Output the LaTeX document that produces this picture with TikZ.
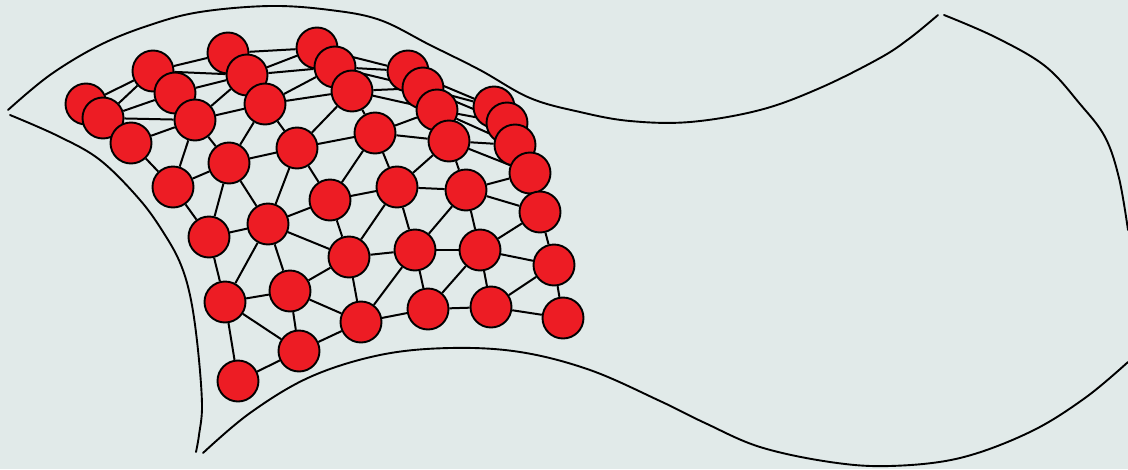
\documentclass[tikz,border=0pt]{standalone}
\usetikzlibrary{backgrounds}
\definecolor{paper}{RGB}{225,234,233}
\definecolor{ballred}{RGB}{237,28,36}
\pgfdeclarelayer{edges}
\pgfsetlayers{background,edges,main}
\tikzset{
  ball/.style={circle, draw=black, fill=ballred, line width=1.9pt,
               minimum size=41pt, inner sep=0pt},
  link/.style={draw=black, line width=2pt},
  rim/.style={draw=black, line width=1.9pt, line cap=round}
}
\begin{document}
\begin{tikzpicture}[x=1pt,y=-1pt]
\begin{pgfonlayer}{background}
  \fill[paper] (0,0) rectangle (1128,469);
\end{pgfonlayer}
\useasboundingbox (0,0) rectangle (1128,469);

% outline of the sheet
\draw[rim] plot[smooth, tension=0.6] coordinates {
  (8,110) (50,75) (100,45) (150,25) (200,12) (270,6) (330,10) (380,20)
  (430,45) (480,70) (530,98) (580,112) (630,121) (690,122) (760,110)
  (820,88) (880,58) (910,38) (938,15)};
\draw[rim] plot[smooth, tension=0.6] coordinates {
  (10,115) (58,136) (100,160) (140,200) (165,235) (181,265)
  (191,300) (198,350) (202,405) (199,435) (196,452)};
\draw[rim] plot[smooth, tension=0.6] coordinates {
  (203,453) (250,413) (310,377) (380,355) (450,348) (520,352) (590,370)
  (660,401) (705,423) (760,447) (830,462) (890,466) (960,458) (1030,432)
  (1085,398) (1128,362)};
\draw[rim] plot[smooth, tension=0.6] coordinates {
  (944,15) (995,37) (1045,66) (1080,104) (1105,137) (1119,178) (1128,230)};

% mesh vertices, back row first
\foreach \p [count=\k] in {(86,104),(153,71),(228,53),(317,48),(408,71),(494,107)}
  \node[ball] (n1-\k) at \p {};
\foreach \p [count=\k] in {(103,118),(175,93),(247,75),(335,67),(423,88),(507,123)}
  \node[ball] (n2-\k) at \p {};
\foreach \p [count=\k] in {(131,143),(195,120),(265,104),(352,91),(437,110),(515,145)}
  \node[ball] (n3-\k) at \p {};
\foreach \p [count=\k] in {(173,187),(229,163),(297,148),(375,133),(449,141),(530,173)}
  \node[ball] (n4-\k) at \p {};
\foreach \p [count=\k] in {(209,237),(268,224),(330,200),(397,187),(466,190),(540,212)}
  \node[ball] (n5-\k) at \p {};
\foreach \p [count=\k] in {(225,302),(290,291),(349,257),(415,250),(480,250),(554,265)}
  \node[ball] (n6-\k) at \p {};
\foreach \p [count=\k] in {(238,381),(299,351),(361,322),(428,309),(491,307),(563,318)}
  \node[ball] (n7-\k) at \p {};

% mesh edges, kept under the vertices
\begin{pgfonlayer}{edges}
  % along the rows
  \foreach \row in {1,...,7}
    \foreach \col [count=\nxt from 2] in {1,...,5}
      \draw[link] (n\row-\col) -- (n\row-\nxt);
  % down the columns
  \foreach \row [count=\nxt from 2] in {1,...,6}
    \foreach \col in {1,...,6}
      \draw[link] (n\row-\col) -- (n\nxt-\col);
  % one diagonal per cell
  \foreach \u/\v in {n2-1/n1-2, n1-2/n2-3, n2-3/n1-4, n2-4/n1-5, n2-5/n1-6,
                     n2-1/n3-2, n3-2/n2-3, n3-3/n2-4, n3-4/n2-5, n3-5/n2-6,
                     n3-2/n4-1, n4-2/n3-3, n4-3/n3-4, n4-4/n3-5, n4-5/n3-6,
                     n4-2/n5-1, n5-2/n4-3, n5-3/n4-4, n5-4/n4-5, n5-5/n4-6,
                     n5-2/n6-1, n5-2/n6-3, n5-4/n6-3, n5-5/n6-4, n6-5/n5-6,
                     n6-1/n7-2, n6-2/n7-3, n7-3/n6-4, n7-4/n6-5, n7-5/n6-6}
    \draw[link] (\u) -- (\v);
\end{pgfonlayer}
\end{tikzpicture}
\end{document}
